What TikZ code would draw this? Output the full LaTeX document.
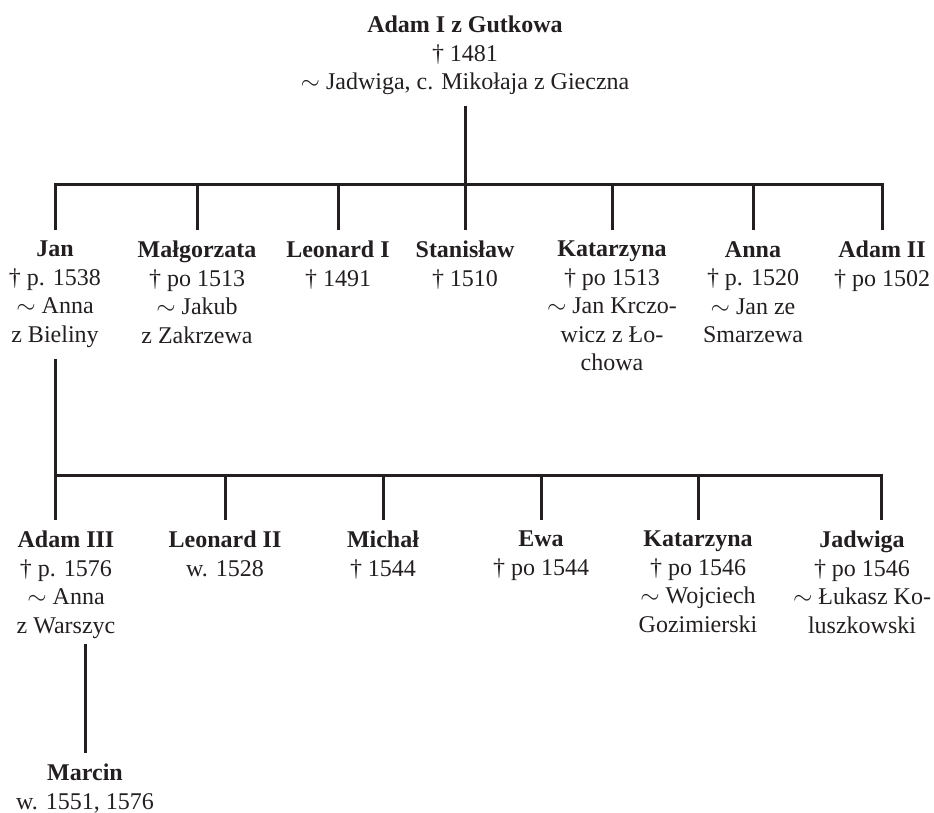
\documentclass[tikz,border=0pt]{standalone}
\usepackage{fontspec}
\setmainfont{Liberation Serif}
\usepackage{tikz}
\usepackage{xcolor}
\definecolor{tusz}{HTML}{231F20}
\tikzset{
  osoba/.style={align=center,anchor=north,inner xsep=0pt,inner ysep=11pt,text=tusz,font=\fontsize{24}{28.5}\selectfont},
  linia/.style={draw=tusz,line width=3pt}
}

\begin{document}
\begin{tikzpicture}[x=1pt,y=-1pt]
\useasboundingbox (0,0) rectangle (934,813);
\node[osoba] (adam1) at (465,5) {\textbf{Adam I z Gutkowa}\\† 1481\\$\sim$ Jadwiga, c. Mikołaja z Gieczna};
\coordinate (b1) at (465,185);
\draw[linia] (adam1) -- (b1);
\foreach \x/\n/\txt in {55/jan/{\textbf{Jan}\\† p. 1538\\$\sim$ Anna\\z Bieliny},197/malgorzata/{\textbf{Małgorzata}\\† po 1513\\$\sim$ Jakub\\z Zakrzewa},338/leonard1/{\textbf{Leonard I}\\† 1491},465/stanislaw/{\textbf{Stanisław}\\† 1510},612/katarzyna1/{\textbf{Katarzyna}\\† po 1513\\$\sim$ Jan Krczo-\\wicz z Ło-\\chowa},753/anna/{\textbf{Anna}\\† p. 1520\\$\sim$ Jan ze\\Smarzewa},882/adam2/{\textbf{Adam II}\\† po 1502}} {
  \node[osoba] (\n) at (\x,230) {\txt};
  \draw[linia] (\n.north) |- (b1);
}
\coordinate (b2) at (55,475);
\draw[linia] (jan) -- (b2);
\foreach \x/\s/\n/\txt in {66/-11/adam3/{\textbf{Adam III}\\† p. 1576\\$\sim$ Anna\\z Warszyc},225/0/leonard2/{\textbf{Leonard II}\\w. 1528},383/0/michal/{\textbf{Michał}\\† 1544},541/0/ewa/{\textbf{Ewa}\\† po 1544},698/0/katarzyna2/{\textbf{Katarzyna}\\† po 1546\\$\sim$ Wojciech\\Gozimierski},862/19/jadwiga/{\textbf{Jadwiga}\\† po 1546\\$\sim$ Łukasz Ko-\\luszkowski}} {
  \node[osoba] (\n) at (\x,520) {\txt};
  \draw[linia] ([xshift=\s pt]\n.north) |- (b2);
}
\node[osoba] (marcin) at (85,753) {\textbf{Marcin}\\w. 1551, 1576};
\coordinate (m1) at ([yshift=6pt]adam3.south);
\draw[linia] (marcin.north) -- (marcin.north |- m1);
\end{tikzpicture}
\end{document}
